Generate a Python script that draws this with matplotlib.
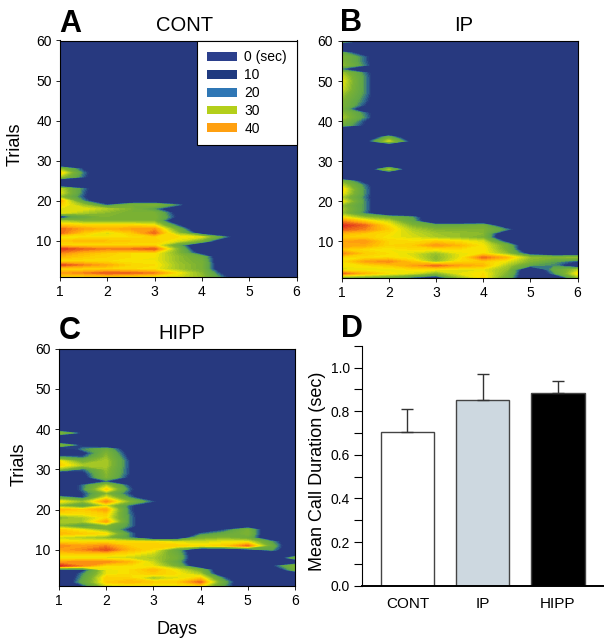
import numpy as np
import matplotlib
matplotlib.use("Agg")
import matplotlib.pyplot as plt
from matplotlib.colors import LinearSegmentedColormap
from matplotlib.patches import Patch
from matplotlib.ticker import MultipleLocator

plt.rcParams['font.family'] = ['Liberation Sans', 'DejaVu Sans']

# Values: call time (sec) per trial, at half-day steps.
# Trials that are not listed are 0, short rows are padded with 0.
day_points = [1, 1.5, 2, 2.5, 3, 3.5, 4, 4.5, 5, 5.5, 6]

cont_rows = {
    1: [36, 36, 36, 35, 34, 33, 28, 13],
    2: [42, 44, 47, 46, 44, 35, 27, 8],
    3: [36, 36, 37, 36, 35, 29, 25],
    4: [48, 44, 41, 37, 36, 29, 25],
    5: [36, 36, 36, 35, 35, 28, 24],
    6: [40, 38, 37, 36, 35, 28, 22],
    7: [44, 40, 38, 36, 36, 26, 8],
    8: [49, 46, 44, 45, 47, 26],
    9: [36, 36, 36, 36, 36, 20],
    10: [38, 40, 39, 38, 38, 33, 24],
    11: [34, 35, 35, 36, 37, 36, 33, 15],
    12: [46, 38, 33, 38, 46, 28, 5],
    13: [46, 42, 40, 42, 43, 22],
    14: [38, 36, 36, 36, 34, 12],
    15: [30, 26, 26, 26, 26],
    16: [6, 20, 26, 26, 26, 10],
    17: [34, 30, 27, 25, 25, 8],
    18: [34, 34, 30, 26, 16],
    19: [38, 28, 13, 24, 26, 15],
    20: [42, 16],
    21: [28, 13],
    22: [34, 14],
    23: [32, 15],
    26: [30, 14],
    27: [38, 15],
    28: [28, 11],
}

ip_rows = {
    1: [26, 24, 22, 14, 8, 28, 37, 22, 0, 0, 28],
    2: [46, 40, 36, 33, 26, 34, 36, 26, 0, 16, 36],
    3: [32, 34, 34, 36, 35, 34, 34, 28, 0, 20, 30],
    4: [36, 36, 38, 42, 46, 42, 40, 30, 18, 16],
    5: [36, 42, 44, 38, 28, 36, 38, 34, 26, 18, 12],
    6: [36, 36, 36, 34, 27, 34, 46, 40, 28, 26, 28],
    7: [44, 38, 36, 33, 28, 34, 36, 28, 8],
    8: [38, 36, 35, 36, 35, 36, 36, 25],
    9: [42, 41, 37, 38, 43, 40, 35, 24],
    10: [42, 43, 37, 36, 38, 36, 33, 10],
    11: [38, 38, 35, 33, 30, 28, 25],
    12: [40, 38, 36, 32, 29, 28, 27],
    13: [47, 44, 38, 30, 26, 26, 26, 16],
    14: [50, 46, 36, 26, 20, 21, 24],
    15: [44, 38, 32, 20],
    16: [36, 28, 24, 18],
    17: [28, 15],
    18: [30, 16],
    19: [28, 16],
    20: [36, 16],
    21: [30, 15],
    22: [36, 16],
    23: [38, 16],
    24: [32, 15],
    25: [26, 8],
    28: [0, 0, 30],
    35: [0, 8, 32, 8],
    36: [0, 0, 22],
    39: [22, 11],
    40: [26, 12],
    41: [30, 16],
    42: [28, 15],
    43: [24],
    44: [26, 12],
    45: [26, 14],
    46: [28, 15],
    47: [30, 16],
    48: [33, 16],
    49: [34, 16],
    50: [35, 16],
    51: [33, 16],
    52: [30, 15],
    53: [14],
    54: [28, 15],
    55: [26, 14],
    56: [26, 14],
    57: [20, 6],
    60: [24, 12],
}

hipp_rows = {
    1: [0, 12, 32, 34, 34, 34, 36, 18],
    2: [0, 20, 38, 40, 38, 38, 46, 20],
    3: [0, 18, 38, 37, 28, 33, 38, 14],
    4: [0, 16, 34, 36, 38, 36, 30],
    5: [8, 10, 34, 36, 40, 34, 24, 0, 0, 0, 22],
    6: [50, 44, 36, 36, 34, 24, 0, 0, 0, 10, 26],
    7: [42, 44, 44, 40, 32, 20],
    8: [34, 34, 33, 32, 30, 24, 0, 0, 0, 0, 22],
    9: [38, 38, 38, 36, 32, 22],
    10: [42, 44, 48, 40, 36, 20, 0, 0, 8, 18],
    11: [44, 42, 44, 38, 38, 38, 36, 38, 46, 22],
    12: [36, 36, 36, 36, 36, 33, 32, 34, 34, 18],
    13: [32, 30, 27, 16, 0, 2, 24, 26, 22],
    14: [40, 38, 36, 16, 0, 0, 14, 20, 26],
    15: [38, 34, 26, 10, 0, 0, 0, 12, 25],
    16: [26, 16, 26, 16],
    17: [30, 30, 42, 16],
    18: [26, 30, 36, 16],
    19: [36, 36, 38, 15],
    20: [40, 38, 42, 14],
    21: [26, 16, 32, 14],
    22: [36, 28, 44, 26, 13],
    23: [20, 12, 34, 16],
    24: [0, 12, 26, 12],
    25: [0, 15, 38, 14],
    26: [0, 15, 30, 12],
    27: [0, 0, 13],
    28: [0, 8, 26, 10],
    29: [0, 10, 27, 12],
    30: [28, 14, 28, 12],
    31: [38, 30, 30, 12],
    32: [36, 24, 30, 12],
    33: [18, 14, 28, 10],
    34: [0, 8, 26, 8],
    35: [0, 16, 22, 6],
    36: [26, 10],
    39: [26, 10],
}

legend_labels = ["0 (sec)", "10", "20", "30", "40"]
legend_colors = ["#2b3f8c", "#1f3a80", "#2f77b5", "#b4cf1a", "#ffa010"]

groups = ["CONT", "IP", "HIPP"]
mean_duration = [0.705, 0.85, 0.885]
duration_err = [0.105, 0.12, 0.055]
bar_colors = ["white", "#cdd8e0", "black"]

# colours of the contour surface
W, H = 607, 640
stops = [(0, "#27397f"), (12, "#27397f"), (15, "#2f6f8f"), (18, "#5ea548"),
         (26, "#7cb232"), (31, "#b5d020"), (35, "#f7e600"), (39, "#ffc400"),
         (43, "#ff9a10"), (50, "#dd2a20"), (52, "#dd2a20")]
cmap = LinearSegmentedColormap.from_list(
    "calls", [(v / 52, c) for v, c in stops], N=256)


def make_grid(rows):
    grid = np.zeros((60, len(day_points)))
    for trial, vals in rows.items():
        grid[trial - 1, :len(vals)] = vals
    return grid


def px_axes(fig, left, top, right, bottom):
    return fig.add_axes([left / W, 1 - bottom / H, (right - left) / W, (bottom - top) / H])


def contour_panel(ax, rows, title, title_x):
    ax.contourf(day_points, np.arange(1, 61), make_grid(rows),
                levels=np.linspace(0, 52, 53), cmap=cmap, vmin=0, vmax=52)
    ax.set_xlim(1, 6)
    ax.set_ylim(1, 60)
    ax.set_xticks(range(1, 7))
    ax.set_yticks(range(10, 70, 10))
    ax.tick_params(length=3, width=0.7, labelsize=10, pad=3, color="#222222")
    for s in ax.spines.values():
        s.set_linewidth(0.8)
    ax.set_title(title, fontsize=14.5, pad=7, x=title_x)


fig = plt.figure(figsize=(W / 100, H / 100), dpi=100)

ax_a = px_axes(fig, 60, 40.5, 296.5, 277)
contour_panel(ax_a, cont_rows, "CONT", 0.528)
ax_a.set_ylabel("Trials", fontsize=13, labelpad=9, y=0.562)
handles = [Patch(facecolor=c, edgecolor="none") for c in legend_colors]
ax_a.legend(handles, legend_labels, loc="upper right", fontsize=10, frameon=True,
            fancybox=False, framealpha=1, edgecolor="black", borderaxespad=0,
            handlelength=2.16, handleheight=0.6, labelspacing=0.28, handletextpad=0.5,
            borderpad=0.7).get_frame().set_linewidth(0.8)

ax_b = px_axes(fig, 341.5, 41, 577.5, 277.5)
contour_panel(ax_b, ip_rows, "IP", 0.519)

ax_c = px_axes(fig, 59, 348.5, 295, 586)
contour_panel(ax_c, hipp_rows, "HIPP", 0.521)
ax_c.set_ylabel("Trials", fontsize=13, labelpad=5, y=0.514)
ax_c.set_xlabel("Days", fontsize=13, labelpad=9)

# bar panel
ax_d = px_axes(fig, 362.3, 345.7, 603, 585.7)
x_pos = np.arange(len(groups))
ax_d.bar(x_pos, mean_duration, width=0.71, color=bar_colors, edgecolor="#444444",
         linewidth=1.0, yerr=[np.zeros(3), duration_err], ecolor="#333333",
         error_kw=dict(capsize=4, elinewidth=1.0, capthick=1.0))
ax_d.set_xlim(-0.6, 2.6)
ax_d.set_ylim(0, 1.1)
ax_d.set_xticks(x_pos)
ax_d.set_xticklabels(groups)
ax_d.yaxis.set_major_locator(MultipleLocator(0.2))
ax_d.yaxis.set_minor_locator(MultipleLocator(0.1))
ax_d.tick_params(axis="x", length=0, labelsize=11, pad=8)
ax_d.tick_params(axis="y", which="major", length=6, width=0.8, labelsize=10, pad=3)
ax_d.tick_params(axis="y", which="minor", length=6, width=0.8)
ax_d.spines["top"].set_visible(False)
ax_d.spines["right"].set_visible(False)
ax_d.spines["left"].set_linewidth(0.8)
ax_d.spines["bottom"].set_linewidth(1.4)
ax_d.set_ylabel("Mean Call Duration (sec)", fontsize=13, labelpad=3, y=0.478)

# panel letters
for letter, px, py in [("A", 59, 32), ("B", 340, 31), ("C", 59, 339), ("D", 341, 337)]:
    fig.text(px / W, 1 - py / H, letter, fontsize=22, fontweight="bold")

fig.savefig("out.png", dpi=100)
